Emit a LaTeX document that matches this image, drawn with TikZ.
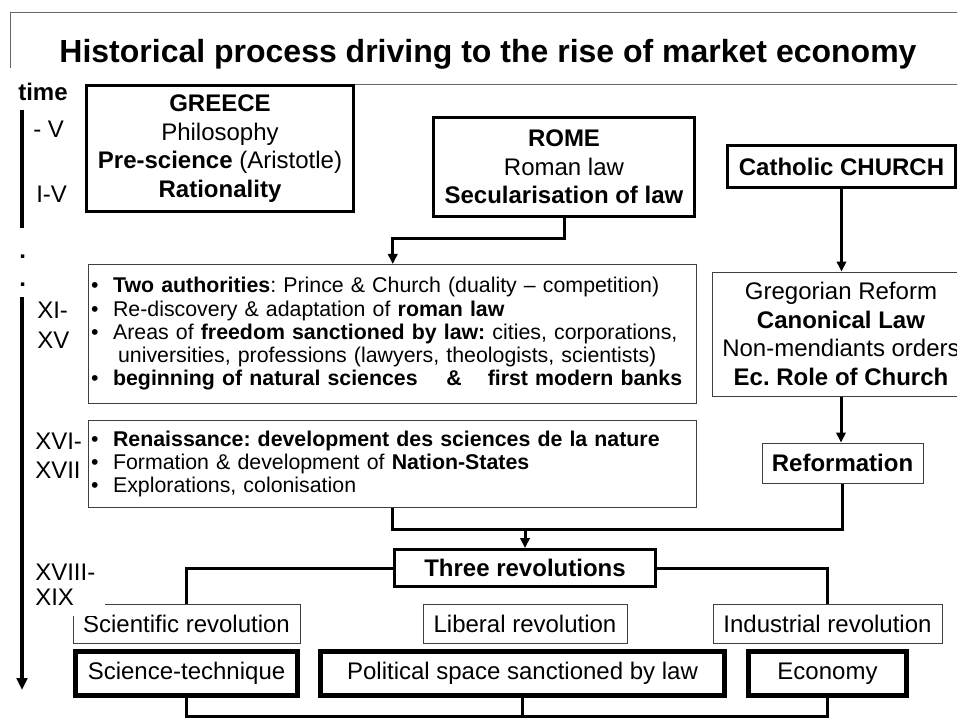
\documentclass[tikz,border=0pt]{standalone}
\usepackage{fontspec}
\setmainfont{Liberation Sans}
\usetikzlibrary{arrows.meta}
\newcommand{\bul}{\makebox[16.5pt][l]{\textbullet}}
\tikzset{
  boldtxt/.style={font=\fontsize{18}{21.5}\selectfont\bfseries},
  box/.style={draw, line width=2.25pt, align=center, inner sep=0pt},
  thinbox/.style={draw=black!75, line width=0.75pt, align=center, inner sep=0pt},
  heavybox/.style={draw, line width=3.75pt, align=center, inner sep=0pt},
  listbox/.style={thinbox, align=left, inner xsep=1.9pt, inner ysep=0pt, text width=452.5pt, font=\fontsize{16}{17.4}\selectfont},
  era/.style={anchor=base west, inner sep=0pt},
  conn/.style={line width=2.25pt},
  arr/.style={conn, -{Triangle[length=7.5pt,width=7pt]}},
  frame/.style={draw=black!60, line width=0.75pt}
}
\begin{document}
\frenchspacing
\begin{tikzpicture}[x=0.75pt, y=-0.75pt, every node/.style={font=\fontsize{18}{21.5}\selectfont}]
    \useasboundingbox (0,0) rectangle (957,718);
    \draw[frame] (10,68) -- (10,12.5) -- (957,12.5);
    \draw[frame] (355,84) -- (957,84);
    \node[anchor=base, font=\fontsize{24}{28}\selectfont\bfseries] (title) at (488,62) {Historical process driving to the rise of market economy};

    \node[era, boldtxt] (time) at (18,100) {time};
    \draw[line width=3pt] (22,110) -- (22,228);
    \node[era, boldtxt] (dota) at (19,258) {.};
    \node[era, boldtxt] (dotb) at (19,286) {.};
    \draw[line width=3pt, -{Triangle[length=9pt,width=8pt]}] (22,297) -- (22,690);
    \node[era] (e1) at (33,137) {- V};
    \node[era] (e2) at (36,202) {I-V};
    \node[era] (e3) at (37,318) {XI-};
    \node[era] (e4) at (37,348) {XV};
    \node[era] (e5) at (35,449) {XVI-};
    \node[era] (e6) at (35,478) {XVII};
    \node[era] (e7) at (35,580) {XVIII-};

    \node[box, minimum width=200.25pt, minimum height=94.5pt] (greece) at (220,148.5) {\textbf{GREECE}\\Philosophy\\\textbf{Pre-science} (Aristotle)\\\textbf{Rationality}};
    \node[box, minimum width=195.75pt, minimum height=74.25pt] (rome) at (564,167) {\textbf{ROME}\\Roman law\\\textbf{Secularisation of law}};
    \node[box, boldtxt, minimum width=171pt, minimum height=31.5pt] (church) at (841.5,166.5) {Catholic CHURCH};

    \node[listbox, minimum height=103.9pt] (xi) at (392.75,333.75) {\bul\textbf{Two authorities}: Prince \& Church (duality -- competition)\\
      \bul Re-discovery \& adaptation of \textbf{roman law}\\
      \bul Areas of \textbf{freedom sanctioned by law:} cities, corporations,\\
      \hspace*{20.25pt}universities, professions (lawyers, theologists, scientists)\\
      \bul\textbf{beginning of natural sciences\hspace{21.5pt}\&\hspace{19.5pt}first modern banks}};
    \node[thinbox, minimum width=193.5pt, minimum height=93pt] (greg) at (841,334) {Gregorian Reform\\\textbf{Canonical Law}\\Non-mendiants orders\\\textbf{Ec. Role of Church}};
    \node[listbox, minimum height=65.6pt] (xvi) at (392.75,463.75) {\bul\textbf{Renaissance: development des sciences de la nature}\\
      \bul Formation \& development of \textbf{Nation-States}\\
      \bul Explorations, colonisation};
    \node[thinbox, boldtxt, minimum width=120.75pt, minimum height=30pt] (refo) at (842.5,463) {Reformation};

    \node[box, boldtxt, minimum width=195.75pt, minimum height=27.75pt] (three) at (525,568) {Three revolutions};
    \node[thinbox, minimum width=170.25pt, minimum height=29.25pt] (scirev) at (186.5,623.5) {Scientific revolution};
    \node[thinbox, minimum width=153pt, minimum height=29.25pt] (librev) at (525,623.5) {Liberal revolution};
    \node[thinbox, minimum width=171.75pt, minimum height=29.25pt] (indrev) at (827.5,623.5) {Industrial revolution};
    \node[era, fill=white, align=left, text width=52.5pt, text depth=8.25pt] (e8) at (35,605) {XIX};
    \node[heavybox, minimum width=166.5pt, minimum height=33pt] (scitech) at (186.5,673.5) {Science-technique};
    \node[heavybox, minimum width=303pt, minimum height=33pt] (polit) at (522.5,673.5) {Political space sanctioned by law};
    \node[heavybox, minimum width=118.5pt, minimum height=33pt] (econ) at (827.5,673.5) {Economy};

    \draw[arr] (rome.south) -- ++(0,20) -| (xi.north);
    \draw[arr] (church.south) -- (church.south |- greg.north);
    \draw[arr] (greg.south) -- (greg.south |- refo.north);
    \coordinate (join) at (525,529);
    \draw[conn] (xvi.south) |- (join) -| (refo.south);
    \draw[arr] (join) -- (three.north);
    \draw[conn] (three.west) -| (scirev.north);
    \draw[conn] (three.east) -| (indrev.north);
    \coordinate (floor) at (522.5,716.5);
    \draw[conn] (scitech.south) |- (floor) -| (econ.south);
    \draw[conn] (polit.south) -- (floor);
\end{tikzpicture}
\end{document}
